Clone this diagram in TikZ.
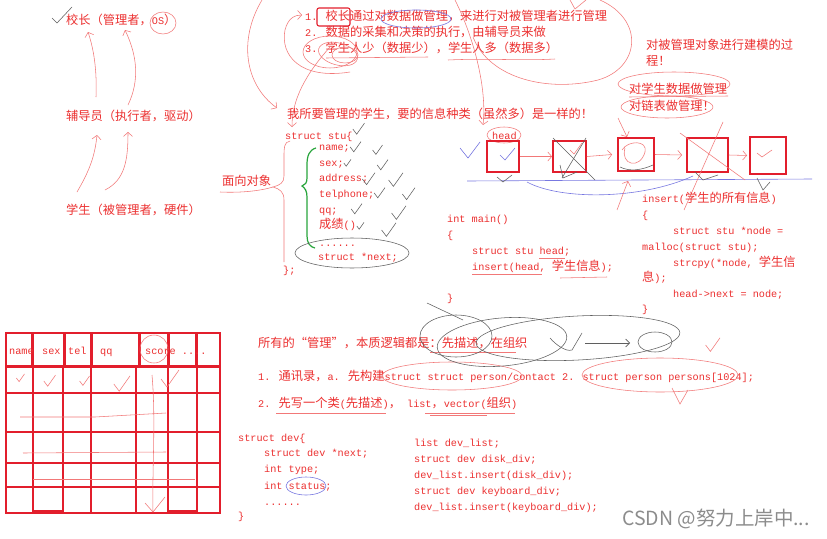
\documentclass[tikz,border=0pt]{standalone}
\usepackage{fontspec}
\setmainfont{Liberation Mono}
\newfontfamily\zhf{Noto Sans CJK SC}[Scale=1.2]
\newfontfamily\wmf{Noto Sans CJK SC}
\newcommand\zh[1]{{\zhf #1}}
\usetikzlibrary{arrows.meta}
\definecolor{tred}{RGB}{236,48,48}
\definecolor{bred}{RGB}{226,30,44}
\definecolor{ppen}{RGB}{242,120,120}
\definecolor{gpenc}{RGB}{95,95,95}
\definecolor{bpenc}{RGB}{120,120,225}
\definecolor{gbrace}{RGB}{40,165,60}
\definecolor{wmgray}{RGB}{140,140,140}
\tikzset{chk/.pic={\draw[pic actions] (-0.4,0) -- (-0.1,0.4) -- (0.5,-0.45);}}
\begin{document}
\begin{tikzpicture}[x=1pt,y=-1pt,
 tx/.style={anchor=west,inner sep=0pt,text=tred,font=\fontsize{10.2}{12}\selectfont,text height=8pt,text depth=2pt},
 pen/.style={draw=ppen,line width=0.55pt},
 gp/.style={draw=gpenc,line width=0.55pt},
 bp/.style={draw=bpenc,line width=0.6pt},
 lbox/.style={draw=bred,line width=1.8pt,minimum width=32pt,minimum height=31pt,inner sep=0pt},
 cell/.style={draw=bred,line width=1.1pt},
 barb/.style={-{Straight Barb[length=4pt,width=9pt]}},
]
\fill[white] (0,0) rectangle (827,538);
\useasboundingbox (0,0) rectangle (827,538);

% ---------- top left hierarchy
\draw[gp] (52,18) -- (57,23) -- (72,7);
\node[tx] (boss) at (66,21) {\zh{校长（管理者，}OS\zh{）}};
\node[tx] (fdy) at (66,117) {\zh{辅导员（执行者，驱动）}};
\node[tx] (xs) at (66,211) {\zh{学生（被管理者，硬件）}};
\draw[pen] (163,23) ellipse [x radius=13, y radius=11];
\draw[pen,barb] (96,97) .. controls (97,70) and (94,50) .. (88,32);
\draw[pen,barb] (128,105) .. controls (140,80) and (137,55) .. (125,30);
\draw[pen,barb] (77,192) .. controls (90,170) and (95,155) .. (97,135);
\draw[pen,barb] (105,190) .. controls (125,180) and (128,160) .. (128,132);

% ---------- numbered list
\node[tx] (l1) at (305,17) {1. \zh{校长通过对数据做管理，来进行对被管理者进行管理}};
\node[tx] (l2) at (305,33) {2. \zh{数据的采集和决策的执行，由辅导员来做}};
\node[tx] (l3) at (305,49) {3. \zh{学生人少（数据少），学生人多（数据多）}};
\draw[bred,line width=1.1pt,rounded corners=2pt] (317,8) rectangle (350,26);
\draw[bp] (416,19) ellipse [x radius=35, y radius=9];
\draw[pen] (326,58) -- (428,57);
\draw[pen] (448,60) .. controls (490,58) and (520,61) .. (555,59);
\draw[pen] (330,52) ellipse [x radius=27, y radius=16];
\draw[pen,rotate around={-15:(338,54)}] (338,54) ellipse [x radius=20, y radius=11];
\draw[pen] (345,55) ellipse [x radius=13, y radius=8];
\draw[pen,barb] (350,72) .. controls (300,80) and (280,55) .. (285,30) .. controls (288,18) and (295,15) .. (302,15);
\draw[pen,barb] (330,47) .. controls (305,75) and (292,100) .. (292,127);
\draw[pen,barb] (262,0) .. controls (238,40) and (245,85) .. (277,108);
\draw[pen,barb] (455,0) .. controls (475,40) and (487,90) .. (483,125);
\draw[pen] (473,37) .. controls (490,80) and (550,92) .. (598,80) .. controls (640,68) and (645,20) .. (600,0);
\draw[pen] (570,0) -- (575,9) -- (586,0);

% ---------- modelling notes
\node[tx] (jm1) at (646,46) {\zh{对被管理对象进行建模的过}};
\node[tx] (jm2) at (646,62) {\zh{程！}};
\node[tx] (sj) at (629,90) {\zh{对学生数据做管理}};
\node[tx] (lb) at (629,107) {\zh{对链表做管理！}};
\draw[pen] (674,84) ellipse [x radius=56, y radius=12];
\draw[pen] (667,107) ellipse [x radius=46, y radius=11];
\draw[pen] (629,97) -- (728,96);

% ---------- struct stu
\node[tx] (wsy) at (287,115) {\zh{我所要管理的学生，要的信息种类（虽然多）是一样的！}};
\node[tx] (mx) at (222,182) {\zh{面向对象}};
\draw[pen] (220,192) .. controls (240,193) and (260,191) .. (273,187);
\draw[pen] (290,141) .. controls (284,142) and (284,148) .. (284,156) -- (284,176) .. controls (284,183) and (280,185) .. (273,187) .. controls (280,189) and (284,192) .. (284,200) -- (284,262);
\node[tx] (s0) at (285,136) {struct stu\{};
\node[tx] (s1) at (319,147) {name;};
\node[tx] (s2) at (319,163) {sex;};
\node[tx] (s3) at (319,178) {address;};
\node[tx] (s4) at (319,194) {telphone;};
\node[tx] (s5) at (319,210) {qq;};
\node[tx] (s6) at (319,225) {\zh{成绩}()};
\node[tx] (s7) at (319,243) {......};
\node[tx] (s8) at (318,257) {struct *next;};
\node[tx] (s9) at (283,270) {\};};
\draw[gbrace,line width=1.2pt] (316,148) .. controls (309,150) and (307,156) .. (307,165) -- (307,178) .. controls (307,183) and (305,185) .. (302,186) .. controls (305,188) and (307,191) .. (307,197) -- (307,236) .. controls (307,243) and (310,247) .. (315,248);
\draw[gp] (352,253) ellipse [x radius=57, y radius=15];
\foreach \cx/\cy/\w in {358/129/13,355/147/12,377/150/11,347/163/8,382/165/12,368/179/14,395/180/16,379/193/12,408/194/14,356/209/12,398/213/16,360/226/8,388/230/16}
  \pic[gp,scale=\w] at (\cx,\cy) {chk};

% ---------- linked list
\node[tx] (hd) at (492,136) {head};
\draw[pen] (504,135) ellipse [x radius=17, y radius=8];
\node[lbox] (b1) at (503,156.5) {};
\node[lbox,minimum width=33pt] (b2) at (569.5,156.5) {};
\node[lbox,minimum width=36pt,minimum height=33pt] (b3) at (636,154.5) {};
\node[lbox,minimum width=41pt,minimum height=34pt] (b4) at (707.5,155) {};
\node[lbox,minimum width=36pt,minimum height=37pt] (b5) at (768,155.5) {};
\draw[pen,barb] (b1.east) -- (b2.west);
\draw[pen,barb] (b2.east) -- ([xshift=-5pt]b3.west);
\draw[pen,barb] (b3.east) -- ([xshift=-4pt]b4.west);
\draw[pen,barb] (b4.east) -- ([xshift=-2pt]b5.west);
\draw[bp] (467,181) -- (812,179);
\draw[bp] (527,182) .. controls (560,200) and (640,200) .. (693,176);
\draw[bp] (460,148) -- (468,158) -- (480,142);
\draw[bp] (500,155) -- (505,160) -- (515,148);
\draw[gp] (497,177) -- (503,182) -- (512,175);
\draw[gp] (553,138) -- (595,180);
\draw[gp] (586,138) -- (562,178);
\draw[gp] (560,165) -- (563,178) -- (577,172);
\draw[pen] (570,150) -- (574,154) -- (582,143);
\draw[pen] (625,148) .. controls (620,165) and (640,170) .. (645,152) .. controls (648,140) and (628,140) .. (622,150);
\draw[gp] (620,167) .. controls (630,172) and (642,170) .. (653,165);
\draw[pen,barb] (618,118) -- (627,137);
\draw[pen,barb] (617,210) -- (628,181);
\draw[pen] (680,133) -- (745,180);
\draw[pen] (723,122) -- (684,210);
\draw[gp] (695,172) -- (703,180) -- (718,175);
\draw[pen] (757,153) -- (762,157) -- (772,150);
\draw[gp] (757,178) -- (763,190) -- (770,182);

% ---------- main()
\node[tx] (m0) at (447,219) {int main()};
\node[tx] (m1) at (447,235) {\{};
\node[tx] (m2) at (472,251) {struct stu head;};
\node[tx] (m3) at (472,267) {insert(head, \zh{学生信息});};
\node[tx] (m4) at (447,298) {\}};
\draw[pen] (539,258) -- (565,258);
\draw[pen] (472,274) -- (542,274);
\draw[pen] (560,278) -- (607,277);

% ---------- insert()
\node[tx] (i0) at (642,199) {insert(\zh{学生的所有信息})};
\node[tx] (i1) at (642,215) {\{};
\node[tx] (i2) at (673,231) {struct stu *node =};
\node[tx] (i3) at (642,247) {malloc(struct stu);};
\node[tx] (i4) at (673,263) {strcpy(*node, \zh{学生信}};
\node[tx] (i5) at (642,278) {\zh{息});};
\node[tx] (i6) at (673,294) {head->next = node;};
\node[tx] (i7) at (642,309) {\}};

% ---------- table
\foreach \a/\b in {6/32,33/64,65/91,92/139,140/168,169/196,197/220}
  \draw[cell] (\a,333) rectangle (\b,366);
\draw[cell] (6,367) rectangle (220,513);
\foreach \a in {33,63,91,136,168,197} \draw[cell] (\a,367) -- (\a,513);
\foreach \b in {393,432,463,487} \draw[cell] (6,\b) -- (220,\b);
\draw[cell] (33,487) rectangle (63,511);
\draw[cell] (168,487) rectangle (197,511);
\node[tx] (h1) at (9,351) {name};
\node[tx] (h2) at (42,351) {sex};
\node[tx] (h3) at (68,351) {tel};
\node[tx] (h4) at (100,351) {qq};
\node[tx] (h5) at (145,351) {score ....};
\draw[pen] (154,349) ellipse [x radius=14, y radius=14];
\foreach \cx/\cy/\w in {20/378/9,49/381/13,84/381/11,121/384/18,169/379/20}
  \pic[pen,scale=\w] at (\cx,\cy) {chk};
\draw[pen] (20,417) -- (95,417) -- (166,413);
\draw[pen] (23,453) -- (166,452);
\draw[pen] (33,479) -- (195,479);
\draw[pen] (152,375) .. controls (156,420) and (152,470) .. (153,512);
\draw[pen] (145,503) -- (153,512) -- (165,497);

% ---------- description / organisation
\node[tx] (g0) at (258,344) {\zh{所有的“管理”，本质逻辑都是：先描述，在组织}};
\node[tx] (g1) at (258,377) {1. \zh{通讯录，}a. \zh{先构建}struct struct person/contact 2. struct person persons[1024];};
\node[tx] (g2) at (258,404) {2. \zh{先写一个类}(\zh{先描述})\zh{，} list\zh{，}vector(\zh{组织})};
\draw[pen] (430,352) -- (516,352);
\draw[pen] (276,413) -- (386,413);
\draw[pen] (425,413) -- (515,413);
\draw[pen] (452,376) ellipse [x radius=70, y radius=14];
\draw[pen] (660,375) ellipse [x radius=78, y radius=17];
\pic[pen,scale=16] at (712,345) {chk};
\draw[pen] (672,388) -- (680,404) -- (688,390);
\draw[gp] (456,336) ellipse [x radius=36, y radius=21];
\draw[gp,rotate around={5:(502,342)}] (502,342) ellipse [x radius=65, y radius=24];
\draw[gp,rotate around={3:(578,338)}] (578,338) ellipse [x radius=102, y radius=22];
\draw[gp] (427,303) -- (463,320);
\draw[gp] (550,338) .. controls (556,345) and (566,352) .. (572,350) -- (582,333);
\draw[gp,-{Straight Barb[length=4pt,width=8pt]}] (585,343) -- (630,343);
\draw[gp] (655,342) ellipse [x radius=17, y radius=10];

% ---------- struct dev
\node[tx] (d0) at (238,438) {struct dev\{};
\node[tx] (d1) at (264,453) {struct dev *next;};
\node[tx] (d2) at (264,469) {int type;};
\node[tx] (d3) at (264,486) {int status;};
\node[tx] (d4) at (264,502) {......};
\node[tx] (d5) at (238,516) {\}};
\draw[bp] (306,486) ellipse [x radius=20, y radius=9];
\node[tx] (r0) at (414,443) {list dev\_list;};
\node[tx] (r1) at (414,459) {struct dev disk\_div;};
\node[tx] (r2) at (414,475) {dev\_list.insert(disk\_div);};
\node[tx] (r3) at (414,491) {struct dev keyboard\_div;};
\node[tx] (r4) at (414,507) {dev\_list.insert(keyboard\_div);};
\draw[pen] (430,415) -- (487,415);

% ---------- watermark
\node[anchor=west,inner sep=0pt,text=wmgray,font=\wmf\fontsize{19.5}{22}\selectfont] (wm) at (622,519) {CSDN @努力上岸中...};
\end{tikzpicture}
\end{document}
